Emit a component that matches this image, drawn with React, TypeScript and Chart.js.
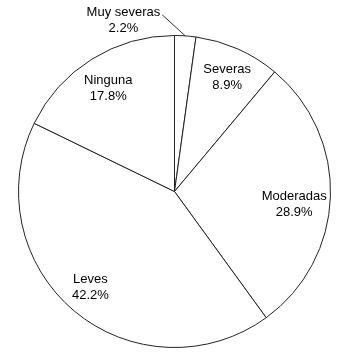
import React, { useEffect, useRef } from "react";
import { Chart, registerables } from "chart.js";

Chart.register(...registerables);

const categories: string[] = ["Muy severas", "Severas", "Moderadas", "Leves", "Ninguna"];
const percentages: number[] = [2.2, 8.9, 28.9, 42.2, 17.8];
const percentLabels: string[] = ["2.2%", "8.9%", "28.9%", "42.2%", "17.8%"];
const outsideLabel: boolean[] = [true, false, false, false, false];

const FONT = "13px 'Liberation Sans', Arial, sans-serif";
// small label nudges (px) applied after the radial placement
const LABEL_NUDGE: [number, number][] = [[0, 0], [2, 0], [-5, 9], [-4, 0], [0, 3]];

const labelPlugin = {
  id: "sliceLabels",
  afterDraw(chart: any) {
    const ctx = chart.ctx;
    const meta = chart.getDatasetMeta(0);
    ctx.save();
    ctx.font = FONT;
    ctx.fillStyle = "#000";
    ctx.textAlign = "center";
    ctx.textBaseline = "middle";
    meta.data.forEach((arc: any, i: number) => {
      const p = arc.getProps(["x", "y", "startAngle", "endAngle", "outerRadius"], true);
      const mid = (p.startAngle + p.endAngle) / 2;
      const cos = Math.cos(mid);
      const sin = Math.sin(mid);
      if (outsideLabel[i]) {
        const ex = p.x + cos * p.outerRadius;
        const ey = p.y + sin * p.outerRadius;
        const lx = ex - 23;
        const ly = ey - 21;
        ctx.strokeStyle = "#333";
        ctx.lineWidth = 1;
        ctx.beginPath();
        ctx.moveTo(ex, ey);
        ctx.lineTo(lx, ly);
        ctx.stroke();
        const w = ctx.measureText(categories[i]).width;
        const cx = lx - 2 - w / 2;
        ctx.fillText(categories[i], cx, ly - 2);
        ctx.fillText(percentLabels[i], cx, ly + 14);
      } else {
        const r = p.outerRadius * 0.8;
        const cx = p.x + cos * r + LABEL_NUDGE[i][0];
        const cy = p.y + sin * r + LABEL_NUDGE[i][1];
        ctx.fillText(categories[i], cx, cy - 8);
        ctx.fillText(percentLabels[i], cx, cy + 8);
      }
    });
    ctx.restore();
  },
};

export default function App() {
  const ref = useRef<HTMLCanvasElement | null>(null);
  useEffect(() => {
    if (!ref.current) return;
    const chart = new Chart(ref.current, {
      type: "pie",
      data: {
        labels: categories,
        datasets: [
          {
            data: percentages,
            backgroundColor: "#ffffff",
            borderColor: "#222222",
            borderWidth: 1,
            hoverOffset: 0,
            offset: 0,
          },
        ],
      },
      options: {
        responsive: false,
        animation: false,
        radius: 156,
        layout: { padding: { left: 0, right: 1, top: 19, bottom: 0 } },
        plugins: {
          legend: { display: false },
          tooltip: { enabled: false },
        },
        events: [],
      } as any,
      plugins: [labelPlugin],
    });
    return () => chart.destroy();
  }, []);
  return (
    <div style={{ position: "fixed", left: 0, top: 0, width: 350, height: 364, background: "#fff" }}>
      <canvas ref={ref} width={350} height={364} style={{ width: 350, height: 364, display: "block" }} />
    </div>
  );
}
